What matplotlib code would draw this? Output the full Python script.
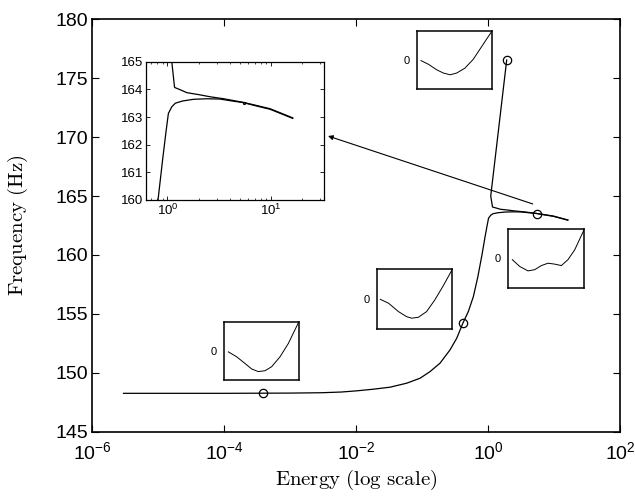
import matplotlib
matplotlib.use("Agg")
import matplotlib.pyplot as plt
from matplotlib.ticker import NullFormatter, NullLocator

plt.rcParams['font.family'] = ['Liberation Sans', 'DejaVu Sans']
plt.rcParams['mathtext.fontset'] = 'custom'
plt.rcParams['mathtext.rm'] = 'Liberation Sans'
plt.rcParams['mathtext.default'] = 'regular'

# Lower (fundamental) branch of the backbone curve
lower_energy = [3e-6, 1e-5, 1e-4, 1e-3, 3e-3, 6e-3, 0.0102, 0.0183, 0.0327, 0.0586,
                0.0933, 0.132, 0.1875, 0.266, 0.336, 0.418, 0.503, 0.60, 0.699, 0.81,
                0.90, 0.966, 1.02, 1.06, 1.10, 1.19, 1.40, 1.78, 2.4, 3.2, 4.2, 5.4,
                7.2, 9.8, 12.5, 16.2]
lower_freq = [148.25, 148.25, 148.25, 148.27, 148.30, 148.36, 148.46, 148.60, 148.77, 149.11,
              149.53, 150.09, 150.81, 151.94, 152.93, 154.23, 155.19, 156.46, 158.1, 160.0,
              161.5, 162.45, 163.13, 163.25, 163.37, 163.5, 163.58, 163.64, 163.66, 163.65,
              163.58, 163.52, 163.40, 163.28, 163.12, 162.95]

# Upper branch
upper_energy = [1.92, 1.10, 1.17, 1.30, 1.54, 2.0, 2.6, 3.5, 5.4, 7.2, 9.8, 12.5, 16.2]
upper_freq = [176.55, 165.0, 164.07, 164.0, 163.88, 163.81, 163.73, 163.66, 163.53, 163.42,
              163.30, 163.14, 162.97]

# Marked solutions
marker_energy = [3.9e-4, 0.418, 5.47, 1.92]
marker_freq = [148.26, 154.23, 163.5, 176.55]

# Mode-shape sketches (normalised position, normalised displacement)
shape_x = {
    'a': [0.058, 0.169, 0.28, 0.369, 0.458, 0.547, 0.636, 0.747, 0.858, 0.991],
    'b': [0.044, 0.154, 0.286, 0.396, 0.463, 0.551, 0.661, 0.771, 0.881, 1.0],
    'c': [0.057, 0.154, 0.263, 0.351, 0.439, 0.526, 0.614, 0.702, 0.789, 0.877, 1.0],
    'd': [0.053, 0.154, 0.264, 0.352, 0.441, 0.529, 0.639, 0.749, 0.859, 1.0],
}
shape_y = {
    'a': [-0.03, -0.2, -0.43, -0.62, -0.71, -0.68, -0.54, -0.2, 0.26, 0.97],
    'b': [-0.01, -0.14, -0.42, -0.59, -0.64, -0.61, -0.42, -0.03, 0.43, 0.97],
    'c': [-0.04, -0.27, -0.42, -0.38, -0.24, -0.16, -0.19, -0.24, -0.04, 0.29, 0.97],
    'd': [-0.02, -0.15, -0.34, -0.45, -0.51, -0.45, -0.28, 0.02, 0.45, 1.0],
}

main_xticks = [1e-6, 1e-4, 1e-2, 1e0, 1e2]
main_yticks = [145, 150, 155, 160, 165, 170, 175, 180]
inset_yticks = [160, 161, 162, 163, 164, 165]

W, H = 635, 497
fig = plt.figure(figsize=(W / 100, H / 100), dpi=100)


def px_axes(left, right, top, bottom):
    return fig.add_axes([left / W, 1 - bottom / H, (right - left) / W, (bottom - top) / H])


ax = px_axes(92, 620, 19.4, 431.6)
ax.set_xscale('log')
ax.plot(lower_energy, lower_freq, color='black', lw=0.9)
ax.plot(upper_energy, upper_freq, color='black', lw=0.9)
ax.plot(marker_energy, marker_freq, 'o', mfc='none', mec='black', ms=6, mew=0.9)
ax.set_xlim(1e-6, 1e2)
ax.set_ylim(145, 180)
ax.set_xticks(main_xticks)
ax.xaxis.set_minor_locator(NullLocator())
ax.set_yticks(main_yticks)
ax.tick_params(direction='in', top=True, right=True, length=5, width=0.8,
               labelsize=14, pad=3)
ax.tick_params(axis='x', pad=7)
for s in ax.spines.values():
    s.set_linewidth(1.2)
ax.set_xlabel(r'$\mathrm{Energy\ (log\ scale)}$', math_fontfamily='cm', fontsize=15)
ax.set_ylabel(r'$\mathrm{Frequency\ (Hz)}$', math_fontfamily='cm', fontsize=15)
ax.xaxis.set_label_coords(0.5, -0.088)
ax.yaxis.set_label_coords(-0.118, 0.5)

ax.annotate('', xy=(3.77e-3, 170.1), xytext=(4.76, 164.33),
            arrowprops=dict(arrowstyle='-|>', color='black', lw=0.8, mutation_scale=7,
                            shrinkA=0, shrinkB=0))

# Zoomed view of the branch junction
ins = px_axes(146, 324.3, 61.7, 200)
ins.set_xscale('log')
ins.plot(lower_energy, lower_freq, color='black', lw=0.9)
ins.plot(upper_energy, upper_freq, color='black', lw=0.9)
ins.plot(marker_energy, marker_freq, 'o', mfc='none', mec='black', ms=1.5, mew=0.8)
ins.set_xlim(0.62, 32.7)
ins.set_ylim(160, 165)
ins.set_yticks(inset_yticks)
ins.set_xticks([1, 10])
ins.xaxis.set_minor_formatter(NullFormatter())
ins.tick_params(which='both', direction='in', top=True, right=True, labelsize=9.5, pad=2)
ins.tick_params(which='major', length=3, width=0.6)
ins.tick_params(which='minor', length=1.5, width=0.5)
for s in ins.spines.values():
    s.set_linewidth(0.9)

# Mode-shape sketches
boxes = {
    'a': (224, 299, 322, 380),
    'b': (377, 452, 269, 329),
    'c': (508, 584, 229, 288),
    'd': (417, 492, 31, 89),
}
for key, (l, r, t, b) in boxes.items():
    bx = px_axes(l, r, t, b)
    bx.plot(shape_x[key], shape_y[key], color='black', lw=0.7)
    bx.set_xlim(0, 1)
    bx.set_ylim(-1, 1)
    bx.set_xticks([])
    bx.set_yticks([0])
    bx.set_yticklabels(['0'])
    bx.tick_params(length=0, labelsize=8, pad=5)
    for s in bx.spines.values():
        s.set_linewidth(1.1)

fig.savefig('out.png', dpi=100)
